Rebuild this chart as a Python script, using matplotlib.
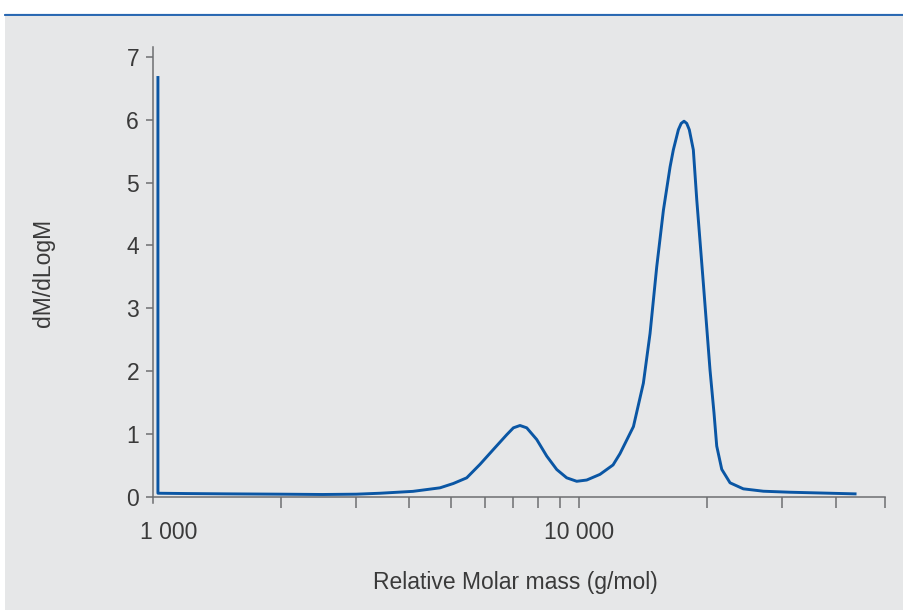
"""
Molar mass distribution (dM/dLogM vs relative molar mass), log x axis
"""

import numpy as np
import matplotlib
matplotlib.use('Agg')
import matplotlib.pyplot as plt
from matplotlib.patches import Rectangle
from matplotlib.lines import Line2D
from matplotlib.ticker import FixedLocator, NullFormatter
from matplotlib.transforms import ScaledTranslation

# Curve (g/mol, dM/dLogM)
molar_mass = [1027, 1027, 1200, 1500, 2000, 2500, 3000, 3412, 4076, 4717,
              5070, 5450, 5857, 6293, 6765, 7014, 7269, 7538, 7957, 8400,
              8866, 9357, 9876, 10425, 11200, 12020, 12480, 13420, 14160, 14680,
              15220, 15780, 16360, 16650, 17110, 17370, 17640, 17900, 18150, 18550,
              18900, 19580, 20300, 20740, 21050, 21630, 22620, 24300, 27090, 31290,
              44460]
dm_dlogm = [6.67, 0.06, 0.055, 0.05, 0.045, 0.04, 0.045, 0.06, 0.09, 0.146,
            0.215, 0.305, 0.52, 0.755, 0.99, 1.10, 1.137, 1.10, 0.914, 0.65,
            0.437, 0.305, 0.25, 0.27, 0.36, 0.51, 0.69, 1.12, 1.81, 2.60,
            3.66, 4.56, 5.25, 5.52, 5.84, 5.94, 5.975, 5.94, 5.84, 5.52,
            4.72, 3.40, 2.02, 1.34, 0.81, 0.44, 0.226, 0.13, 0.092, 0.076,
            0.05]

x_major = [1000, 10000]
x_major_labels = ['1 000', '10 000']
x_minor = [2000, 3000, 4000, 5000, 6000, 7000, 8000, 9000, 20000, 30000, 40000, 52270]
y_ticks = [0, 1, 2, 3, 4, 5, 6, 7]

X_MIN, X_MAX = 1000, 52270
Y_MIN, Y_MAX = -0.1, 7.155

LINE_COLOR = '#0a56a4'
AXIS_COLOR = '#6d6e71'
TEXT_COLOR = '#3a3a3a'
PANEL_COLOR = '#e6e7e8'
FS = 16.5

plt.rcParams['font.family'] = ['Liberation Sans', 'DejaVu Sans']

W, H = 904, 610
fig = plt.figure(figsize=(W / 100, H / 100), dpi=100, facecolor='white')

# grey panel and blue rule on top
fig.add_artist(Rectangle((5 / W, 0), (W - 5) / W, (H - 15) / H,
                         transform=fig.transFigure, facecolor=PANEL_COLOR,
                         edgecolor='none', zorder=0))
fig.add_artist(Line2D([5 / W, 1], [1 - 13.5 / H, 1 - 13.5 / H],
                      transform=fig.transFigure, color='#9dbbe0', lw=1.0, zorder=1))
fig.add_artist(Line2D([5 / W, 1], [1 - 14.5 / H, 1 - 14.5 / H],
                      transform=fig.transFigure, color='#1c5fae', lw=1.3, zorder=1))

ax = fig.add_axes([153 / W, (H - 503.3) / H, 732 / W, 456.3 / H])
ax.set_facecolor('none')

ax.plot(molar_mass, dm_dlogm, color=LINE_COLOR, linewidth=2.1,
        solid_joinstyle='round', zorder=3)

ax.set_xscale('log')
ax.set_xlim(X_MIN, X_MAX)
ax.set_ylim(Y_MIN, Y_MAX)

# spines
ax.spines['top'].set_visible(False)
ax.spines['right'].set_visible(False)
ax.spines['bottom'].set_position(('data', 0))
for side in ['left', 'bottom']:
    ax.spines[side].set_color(AXIS_COLOR)
    ax.spines[side].set_linewidth(1.1)

# ticks
ax.xaxis.set_major_locator(FixedLocator(x_major))
ax.xaxis.set_minor_locator(FixedLocator(x_minor))
ax.xaxis.set_minor_formatter(NullFormatter())
ax.set_xticks(x_major)
ax.set_xticklabels(x_major_labels)
ax.set_yticks(y_ticks)
ax.set_yticklabels([str(v) for v in y_ticks])

ax.tick_params(axis='x', which='both', direction='out', length=8, width=1.1,
               color=AXIS_COLOR, labelcolor=TEXT_COLOR, labelsize=FS, pad=9)
ax.tick_params(axis='y', direction='out', length=5, width=1.1,
               color=AXIS_COLOR, labelcolor=TEXT_COLOR, labelsize=FS, pad=5)

# no tick mark under the corner, and nudge the "1 000" label right
first = ax.xaxis.get_major_ticks()[0]
first.tick1line.set_visible(False)
lab = first.label1
lab.set_transform(lab.get_transform() + ScaledTranslation(16 / 100, 0, fig.dpi_scale_trans))

# axis labels
ax.set_xlabel('Relative Molar mass (g/mol)', fontsize=FS, color=TEXT_COLOR)
ax.set_ylabel('dM/dLogM', fontsize=FS, color=TEXT_COLOR)
ax.xaxis.set_label_coords((515 - 153) / 732, (503.3 - 583) / 456.3)
ax.xaxis.label.set_va('center')
ax.yaxis.set_label_coords((43 - 153) / 732, (503.3 - 273) / 456.3)
ax.yaxis.label.set_va('center')

fig.savefig('out.png', dpi=100, facecolor='white')
